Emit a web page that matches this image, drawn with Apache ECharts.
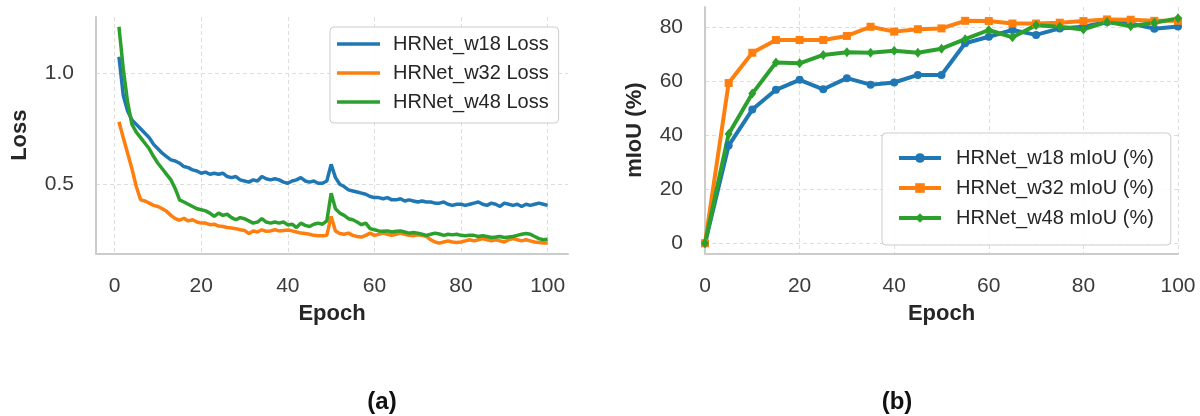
<!DOCTYPE html>
<html>
<head>
<meta charset="utf-8">
<script src="https://cdn.jsdelivr.net/npm/echarts@6/dist/echarts.min.js"></script>
<style>
  html, body { margin: 0; padding: 0; background: #ffffff; }
  #chart { width: 1200px; height: 416px; }
</style>
</head>
<body>
<div id="chart"></div>
<script>
// ---- (a) training loss per epoch (epochs 1..100) ----
const lossEpochs = Array.from({ length: 100 }, (_, i) => i + 1);

const lossW18 = [
  1.075, 0.90, 0.83, 0.79, 0.77, 0.75, 0.73, 0.71, 0.68, 0.66,
  0.64, 0.625, 0.61, 0.605, 0.595, 0.58, 0.575, 0.565, 0.56, 0.55,
  0.555, 0.545, 0.55, 0.545, 0.55, 0.535, 0.53, 0.535, 0.52, 0.515,
  0.51, 0.52, 0.515, 0.535, 0.525, 0.52, 0.525, 0.52, 0.51, 0.505,
  0.515, 0.52, 0.53, 0.515, 0.51, 0.515, 0.505, 0.505, 0.515, 0.59,
  0.53, 0.50, 0.49, 0.475, 0.47, 0.465, 0.46, 0.455, 0.445, 0.44,
  0.44, 0.435, 0.44, 0.43, 0.43, 0.435, 0.425, 0.43, 0.425, 0.42,
  0.425, 0.42, 0.42, 0.415, 0.415, 0.42, 0.41, 0.405, 0.41, 0.41,
  0.405, 0.41, 0.415, 0.42, 0.41, 0.405, 0.415, 0.41, 0.40, 0.415,
  0.41, 0.405, 0.41, 0.40, 0.41, 0.405, 0.41, 0.415, 0.41, 0.405
];

const lossW32 = [
  0.782, 0.71, 0.64, 0.57, 0.49, 0.43, 0.425, 0.415, 0.405, 0.40,
  0.39, 0.378, 0.36, 0.345, 0.338, 0.347, 0.335, 0.34, 0.33, 0.325,
  0.325, 0.318, 0.32, 0.312, 0.31, 0.305, 0.303, 0.30, 0.295, 0.292,
  0.278, 0.29, 0.285, 0.295, 0.288, 0.29, 0.295, 0.29, 0.292, 0.294,
  0.29, 0.285, 0.28, 0.278, 0.275, 0.27, 0.268, 0.268, 0.27, 0.355,
  0.29, 0.278, 0.275, 0.28, 0.27, 0.265, 0.262, 0.27, 0.28, 0.27,
  0.275, 0.28, 0.275, 0.27, 0.275, 0.28, 0.275, 0.27, 0.268, 0.272,
  0.27, 0.265, 0.25, 0.24, 0.235, 0.24, 0.245, 0.24, 0.238, 0.24,
  0.245, 0.25, 0.245, 0.25, 0.255, 0.25, 0.245, 0.25, 0.245, 0.24,
  0.25, 0.255, 0.25, 0.245, 0.25, 0.245, 0.24, 0.238, 0.235, 0.235
];

const lossW48 = [
  1.21, 1.02, 0.87, 0.77, 0.735, 0.71, 0.685, 0.66, 0.625, 0.595,
  0.57, 0.545, 0.52, 0.48, 0.43, 0.42, 0.41, 0.40, 0.39, 0.385,
  0.38, 0.37, 0.355, 0.37, 0.36, 0.365, 0.35, 0.34, 0.35, 0.345,
  0.335, 0.325, 0.33, 0.345, 0.33, 0.325, 0.33, 0.325, 0.33, 0.317,
  0.32, 0.305, 0.325, 0.315, 0.31, 0.32, 0.325, 0.32, 0.335, 0.46,
  0.39, 0.37, 0.36, 0.345, 0.34, 0.33, 0.318, 0.325, 0.30, 0.295,
  0.29, 0.288, 0.29, 0.285, 0.288, 0.29, 0.285, 0.28, 0.283, 0.28,
  0.275, 0.27, 0.275, 0.28, 0.276, 0.27, 0.275, 0.272, 0.275, 0.27,
  0.268, 0.27, 0.27, 0.265, 0.268, 0.265, 0.26, 0.262, 0.265, 0.26,
  0.262, 0.265, 0.27, 0.275, 0.278, 0.275, 0.265, 0.255, 0.25, 0.252
];

// ---- (b) validation mIoU every 5 epochs ----
const miouEpochs = [0, 5, 10, 15, 20, 25, 30, 35, 40, 45, 50, 55, 60, 65, 70, 75, 80, 85, 90, 95, 100];
const miouW18 = [0, 36.1, 49.4, 56.7, 60.4, 56.9, 61.0, 58.6, 59.4, 62.2, 62.2, 73.9, 76.3, 78.8, 77.0, 79.4, 80.0, 81.8, 81.2, 79.3, 80.1];
const miouW32 = [0, 59.2, 70.4, 75.1, 75.1, 75.1, 76.6, 80.0, 78.2, 79.1, 79.4, 82.2, 82.1, 81.2, 81.2, 81.5, 82.1, 82.7, 82.6, 82.2, 82.2];
const miouW48 = [0, 40.4, 55.3, 66.8, 66.5, 69.6, 70.6, 70.4, 71.1, 70.4, 71.9, 75.4, 78.8, 76.1, 80.6, 80.0, 79.0, 81.8, 80.2, 81.5, 83.1];

const tickValuesLossY = [0.5, 1.0];
const tickStepEpoch = 20;
const tickStepMiou = 20;

const COLORS = { w18: '#1f77b4', w32: '#ff7f0e', w48: '#2ca02c' };
const FONT = '"Liberation Sans", Arial, "DejaVu Sans", sans-serif';
const TICK_COLOR = '#3a3a3a';
const NAME_COLOR = '#262626';
const SPINE = { show: true, onZero: false, lineStyle: { color: '#cccccc', width: 2 } };
const GRIDLINE = { show: true, showMinLine: false, showMaxLine: false, lineStyle: { color: '#dddddd', width: 1, type: [4, 3] } };

const pairs = (xs, ys) => xs.map((x, i) => [x, ys[i]]);

function valueAxis(opts) {
  return Object.assign({
    type: 'value',
    axisLine: SPINE,
    axisTick: { show: false },
    splitLine: GRIDLINE,
    axisLabel: { color: TICK_COLOR, fontSize: 21, fontFamily: FONT, margin: 22, showMinLabel: false, showMaxLabel: false },
    nameLocation: 'middle',
    nameTextStyle: { color: NAME_COLOR, fontSize: 22, fontWeight: 'bold', fontFamily: FONT }
  }, opts);
}

const legendBase = {
  orient: 'vertical',
  align: 'left',
  borderColor: '#cccccc',
  borderWidth: 1,
  borderRadius: 4,
  backgroundColor: 'rgba(255,255,255,0.85)',
  textStyle: { color: NAME_COLOR, fontSize: 20, fontFamily: FONT, lineHeight: 20 }
};

const LOSS_W = 3.5;
const MIOU_W = 4;

const option = {
  animation: false,
  backgroundColor: '#ffffff',
  textStyle: { fontFamily: FONT },
  grid: [
    { left: 96, top: 17, width: 472, height: 236.3 },
    { left: 705, top: 7, width: 473, height: 246.3 }
  ],
  xAxis: [
    valueAxis({
      gridIndex: 0, min: -4.3, max: 104.7, minInterval: tickStepEpoch, maxInterval: tickStepEpoch,
      name: 'Epoch', nameGap: 50
    }),
    valueAxis({
      gridIndex: 1, min: 0, max: 100, interval: tickStepEpoch,
      name: 'Epoch', nameGap: 50,
      axisLabel: { color: TICK_COLOR, fontSize: 21, fontFamily: FONT, margin: 22 },
      splitLine: { show: true, lineStyle: { color: '#dddddd', width: 1, type: [4, 3] } }
    })
  ],
  yAxis: [
    valueAxis({
      gridIndex: 0, min: 0.189, max: 1.254,
      minInterval: tickValuesLossY[1] - tickValuesLossY[0], maxInterval: tickValuesLossY[1] - tickValuesLossY[0],
      name: 'Loss', nameGap: 65,
      axisLabel: {
        color: TICK_COLOR, fontSize: 21, fontFamily: FONT, margin: 22, showMinLabel: false, showMaxLabel: false,
        formatter: v => v.toFixed(1)
      }
    }),
    valueAxis({
      gridIndex: 1, min: -3.7, max: 87.3, minInterval: tickStepMiou, maxInterval: tickStepMiou,
      name: 'mIoU (%)', nameGap: 59
    })
  ],
  legend: [
    Object.assign({}, legendBase, {
      left: 330, top: 27, itemWidth: 43, itemHeight: LOSS_W, itemGap: 9,
      icon: 'rect',
      padding: [7, 10, 11, 7],
      textStyle: Object.assign({}, legendBase.textStyle, { padding: [0, 0, 0, 8] }),
      data: ['HRNet_w18 Loss', 'HRNet_w32 Loss', 'HRNet_w48 Loss']
    }),
    Object.assign({}, legendBase, {
      left: 882, top: 133, itemWidth: 42, itemHeight: 12, itemGap: 10,
      lineStyle: { width: MIOU_W },
      padding: [15, 17, 17, 15],
      textStyle: Object.assign({}, legendBase.textStyle, { padding: [0, 0, 0, 10] }),
      data: ['HRNet_w18 mIoU (%)', 'HRNet_w32 mIoU (%)', 'HRNet_w48 mIoU (%)']
    })
  ],
  graphic: [
    { type: 'text', x: 382, y: 402, style: { text: '(a)', fill: '#111111', font: 'bold 24px ' + FONT, textAlign: 'center', textVerticalAlign: 'middle' } },
    { type: 'text', x: 897, y: 402, style: { text: '(b)', fill: '#111111', font: 'bold 24px ' + FONT, textAlign: 'center', textVerticalAlign: 'middle' } }
  ],
  series: [
    { name: 'HRNet_w18 Loss', type: 'line', xAxisIndex: 0, yAxisIndex: 0, data: pairs(lossEpochs, lossW18), showSymbol: false, symbol: 'none', color: COLORS.w18, lineStyle: { width: LOSS_W } },
    { name: 'HRNet_w32 Loss', type: 'line', xAxisIndex: 0, yAxisIndex: 0, data: pairs(lossEpochs, lossW32), showSymbol: false, symbol: 'none', color: COLORS.w32, lineStyle: { width: LOSS_W } },
    { name: 'HRNet_w48 Loss', type: 'line', xAxisIndex: 0, yAxisIndex: 0, data: pairs(lossEpochs, lossW48), showSymbol: false, symbol: 'none', color: COLORS.w48, lineStyle: { width: LOSS_W } },
    { name: 'HRNet_w18 mIoU (%)', type: 'line', xAxisIndex: 1, yAxisIndex: 1, data: pairs(miouEpochs, miouW18), symbol: 'circle', symbolSize: 8, color: COLORS.w18, lineStyle: { width: MIOU_W }, clip: false },
    { name: 'HRNet_w32 mIoU (%)', type: 'line', xAxisIndex: 1, yAxisIndex: 1, data: pairs(miouEpochs, miouW32), symbol: 'rect', symbolSize: 8, color: COLORS.w32, lineStyle: { width: MIOU_W }, clip: false },
    { name: 'HRNet_w48 mIoU (%)', type: 'line', xAxisIndex: 1, yAxisIndex: 1, data: pairs(miouEpochs, miouW48), symbol: 'diamond', symbolSize: [8, 10], color: COLORS.w48, lineStyle: { width: MIOU_W }, clip: false }
  ]
};

const chart = echarts.init(document.getElementById('chart'), null, { renderer: 'canvas' });
chart.setOption(option);
</script>
</body>
</html>
